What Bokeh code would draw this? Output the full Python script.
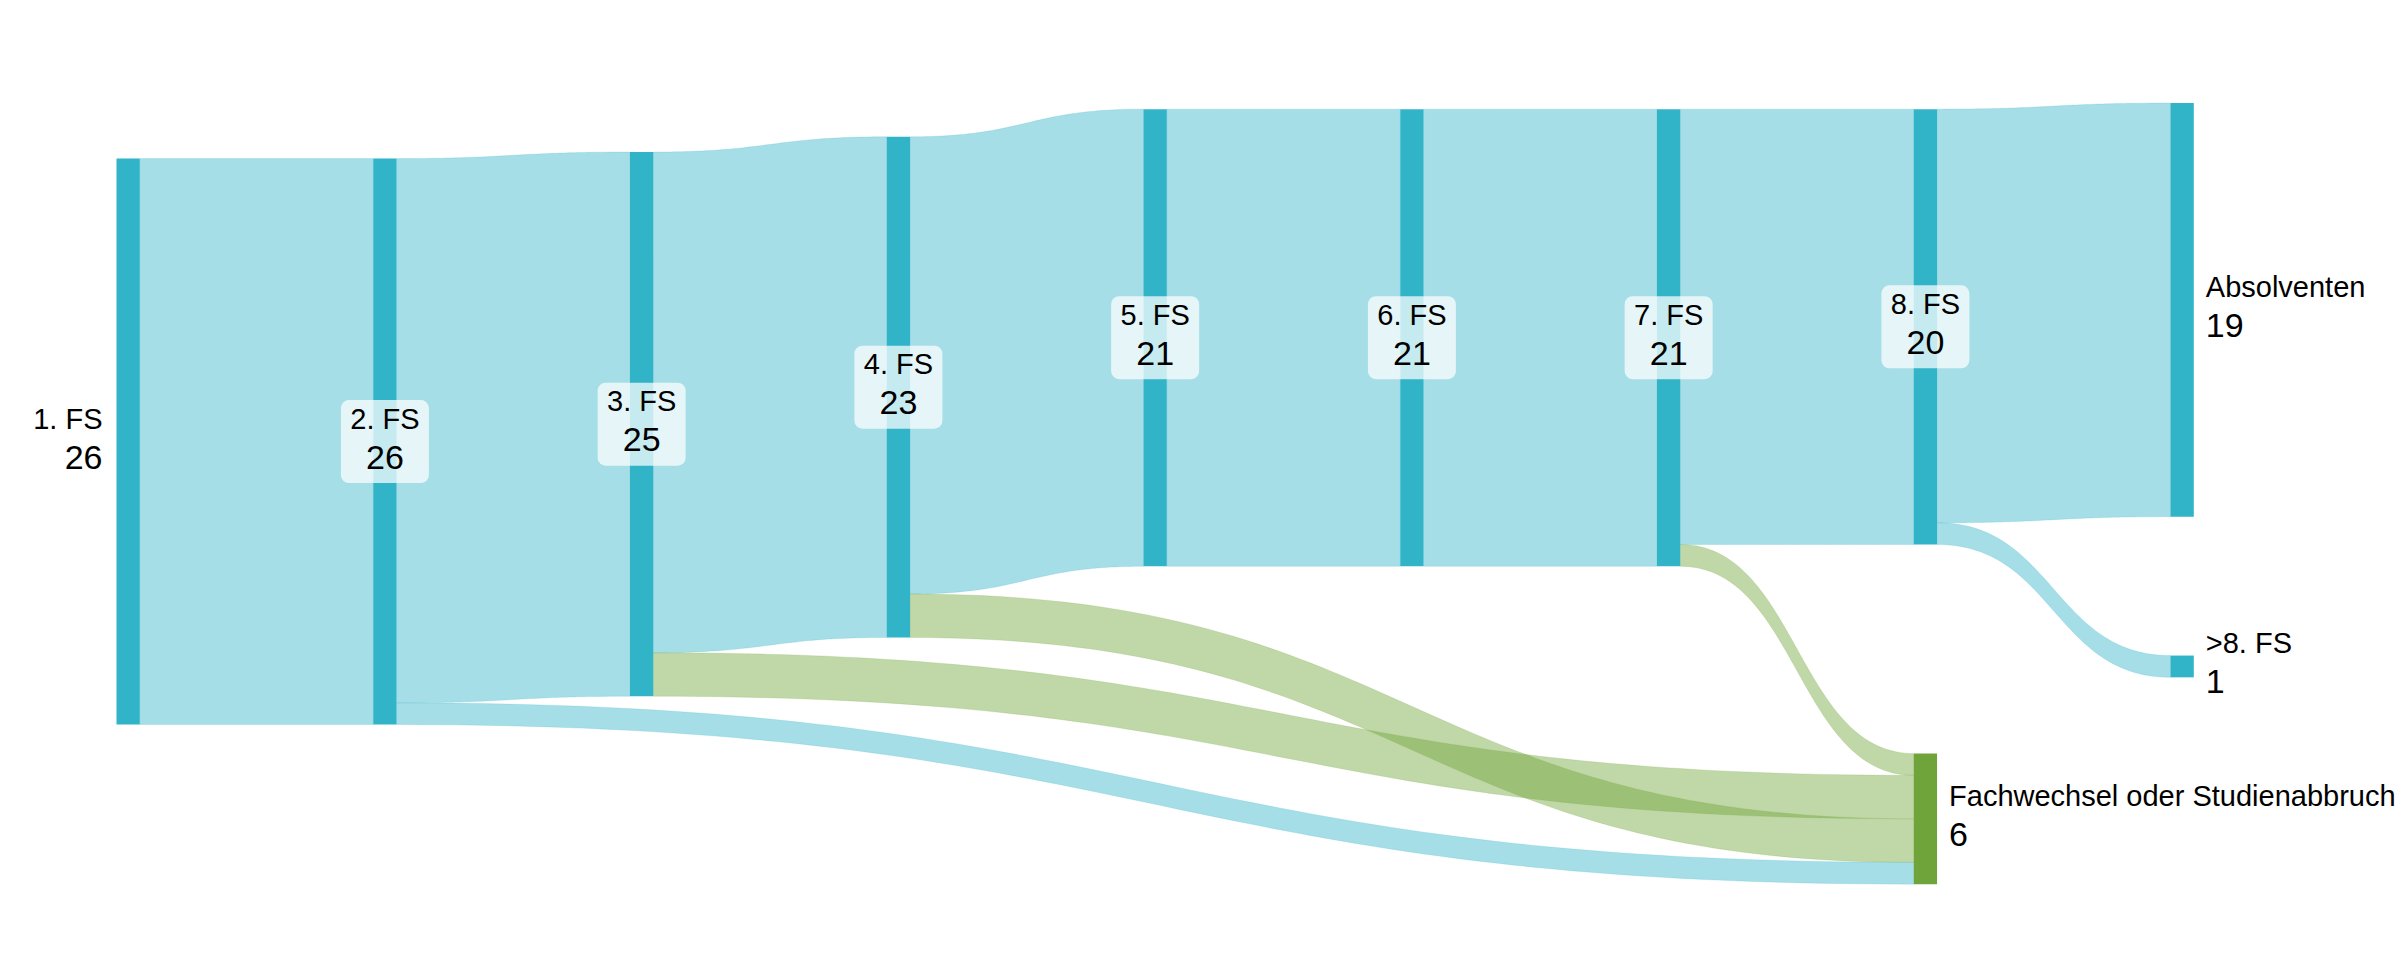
import numpy as np
from bokeh.plotting import figure
from bokeh.models import ColumnDataSource, Range1d
from bokeh.embed import file_html
from bokeh.resources import INLINE
from bokeh.core.properties import value

# ---------------- DATA ----------------
node_names = ["1. FS", "2. FS", "3. FS", "4. FS", "5. FS", "6. FS", "7. FS", "8. FS",
              "Absolventen", ">8. FS", "Fachwechsel oder Studienabbruch"]
link_source = ["1. FS", "2. FS", "2. FS", "3. FS", "3. FS", "4. FS", "4. FS",
               "5. FS", "6. FS", "7. FS", "7. FS", "8. FS", "8. FS"]
link_target = ["2. FS", "3. FS", "Fachwechsel oder Studienabbruch", "4. FS",
               "Fachwechsel oder Studienabbruch", "5. FS", "Fachwechsel oder Studienabbruch",
               "6. FS", "7. FS", "8. FS", "Fachwechsel oder Studienabbruch",
               "Absolventen", ">8. FS"]
link_value = [26, 25, 1, 23, 2, 21, 2, 21, 21, 20, 1, 19, 1]
link_group = ["blue", "blue", "blue", "blue", "green", "blue", "green",
              "blue", "blue", "blue", "green", "blue", "blue"]
node_group = ["blue"] * 10 + ["green"]

# ---------------- LAYOUT ----------------
node_column = [0, 1, 2, 3, 4, 5, 6, 7, 8, 8, 7]
node_top = [7.26, 7.26, 6.96, 6.26, 4.99, 4.99, 4.99, 4.99, 4.71, 30.09, 34.59]   # value units from top
incoming_order = {"Fachwechsel oder Studienabbruch": ["7. FS", "3. FS", "4. FS", "2. FS"]}

node_colors = {"blue": "#31b3c8", "green": "#6fa43a"}
link_alpha = 0.44

W, H = 2400, 953
ppu = 21.77          # pixels per value unit
col_px0 = 116.0      # pixel position of first column
col_step = 256.75    # pixels between columns
node_px = 23.3       # node width in pixels

x_start = -col_px0 / col_step
x_end = x_start + W / col_step
node_w = node_px / col_step

N = len(node_names)
idx = {n: i for i, n in enumerate(node_names)}
in_sum = [0] * N
out_sum = [0] * N
for s, t, v in zip(link_source, link_target, link_value):
    out_sum[idx[s]] += v
    in_sum[idx[t]] += v
node_val = [max(a, b) for a, b in zip(in_sum, out_sum)]

# link positions at source and target
L = len(link_value)
y_src = [0.0] * L
y_tgt = [0.0] * L
for i in range(N):
    outs = [k for k in range(L) if idx[link_source[k]] == i]
    outs.sort(key=lambda k: node_top[idx[link_target[k]]])
    off = node_top[i]
    for k in outs:
        y_src[k] = off
        off += link_value[k]
    ins = [k for k in range(L) if idx[link_target[k]] == i]
    name = node_names[i]
    if name in incoming_order:
        order = incoming_order[name]
        ins.sort(key=lambda k: order.index(link_source[k]))
    else:
        ins.sort(key=lambda k: node_top[idx[link_source[k]]])
    off = node_top[i]
    for k in ins:
        y_tgt[k] = off
        off += link_value[k]

t = np.linspace(0, 1, 80)
b0 = (1 - t) ** 3
b1 = 3 * (1 - t) ** 2 * t
b2 = 3 * (1 - t) * t ** 2
b3 = t ** 3

xs, ys, lcol = [], [], []
for k in range(L):
    s = idx[link_source[k]]
    d = idx[link_target[k]]
    x0 = node_column[s] + node_w
    x1 = node_column[d]
    cx = (x0 + x1) / 2
    bx = b0 * x0 + b1 * cx + b2 * cx + b3 * x1
    v = link_value[k]
    top = b0 * y_src[k] + b1 * y_src[k] + b2 * y_tgt[k] + b3 * y_tgt[k]
    bot = top + v
    xs.append(list(bx) + list(bx[::-1]))
    ys.append(list(top) + list(bot[::-1]))
    lcol.append(node_colors[link_group[k]])

p = figure(width=W, height=H, x_range=Range1d(x_start, x_end), y_range=Range1d(H / ppu, 0),
           output_backend="svg", toolbar_location=None, min_border=0)
p.axis.visible = False
p.grid.visible = False
p.outline_line_color = None
p.background_fill_color = "white"
p.border_fill_color = "white"

p.patches(xs=xs, ys=ys, fill_color=lcol, fill_alpha=link_alpha,
          line_color=lcol, line_alpha=0.18, line_width=1)

nsrc = ColumnDataSource(dict(
    left=[node_column[i] for i in range(N)],
    right=[node_column[i] + node_w for i in range(N)],
    top=[node_top[i] for i in range(N)],
    bottom=[node_top[i] + node_val[i] for i in range(N)],
    color=[node_colors[g] for g in node_group],
))
p.quad(left="left", right="right", top="top", bottom="bottom", source=nsrc,
       fill_color="color", line_color=None)

# label groups
mid, left_lab, right_lab = [], [], []
for i in range(N):
    if in_sum[i] == 0:
        left_lab.append(i)
    elif out_sum[i] == 0:
        right_lab.append(i)
    else:
        mid.append(i)

font = value("Liberation Sans")
name_size = "29px"
val_size = "34px"
name_dy = -23
val_dy = 15.5

# boxes behind middle labels
box_w = 88 / col_step
box_h = 83 / ppu
bsrc = ColumnDataSource(dict(
    left=[node_column[i] + node_w / 2 - box_w / 2 for i in mid],
    right=[node_column[i] + node_w / 2 + box_w / 2 for i in mid],
    top=[node_top[i] + node_val[i] / 2 - box_h / 2 for i in mid],
    bottom=[node_top[i] + node_val[i] / 2 + box_h / 2 for i in mid],
))
p.quad(left="left", right="right", top="top", bottom="bottom", source=bsrc,
       fill_color="white", fill_alpha=0.72, line_color=None, border_radius=8)


def labels(ids, xpos, align, xoff):
    src = ColumnDataSource(dict(
        x=[xpos(i) for i in ids],
        y=[node_top[i] + node_val[i] / 2 for i in ids],
        name=[node_names[i] for i in ids],
        val=[str(node_val[i]) for i in ids],
    ))
    p.text(x="x", y="y", text="name", source=src, text_align=align, text_baseline="alphabetic",
           x_offset=xoff, y_offset=name_dy, text_font=font, text_font_size=name_size,
           text_color="#000000")
    p.text(x="x", y="y", text="val", source=src, text_align=align, text_baseline="alphabetic",
           x_offset=xoff, y_offset=val_dy, text_font=font, text_font_size=val_size,
           text_color="#000000")


labels(mid, lambda i: node_column[i] + node_w / 2, "center", 0)
labels(left_lab, lambda i: node_column[i], "right", -14)
labels(right_lab, lambda i: node_column[i] + node_w, "left", 12)

open("out.html", "w").write(file_html(p, INLINE))
